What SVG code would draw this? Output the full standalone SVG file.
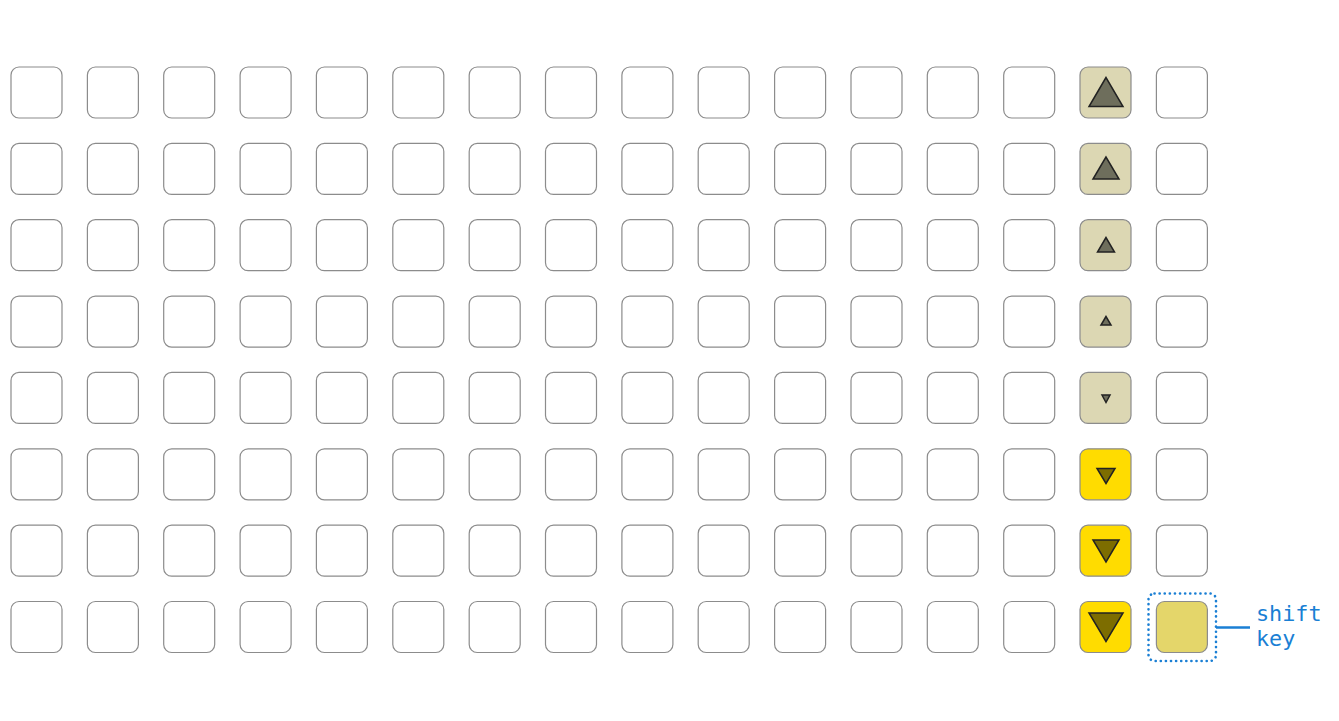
<svg xmlns="http://www.w3.org/2000/svg" xmlns:xlink="http://www.w3.org/1999/xlink" width="1339" height="721" viewBox="0 0 1339 721">
<style>
.key{fill:#ffffff;stroke:#8c8c8c;stroke-width:1.2}
.beige{fill:#dcd7b3;stroke:#8c8c8c;stroke-width:1.2}
.yellow{fill:#ffdc00;stroke:#8c8c8c;stroke-width:1.2}
.shiftk{fill:#e4d66a;stroke:#8c8c8c;stroke-width:1.2}
.tg{fill:#6e6e5c;stroke:#222;stroke-width:1.5;stroke-linejoin:miter}
.ty{fill:#7d6d00;stroke:#222;stroke-width:1.5;stroke-linejoin:miter}
.hl{fill:none;stroke:#1a7fd4;stroke-width:2.6;stroke-dasharray:0.1 5;stroke-linecap:round}
.ln{stroke:#1a7fd4;stroke-width:2.4}
.lbl{font-family:"DejaVu Sans Mono","Liberation Mono",monospace;font-size:21.8px;fill:#1a7fd4}
</style>
<defs>
<rect id="k" width="51" height="51" rx="8" ry="8"/>
</defs>
<g id="grid">
<g id="r0" transform="translate(0,67)">
<use href="#k" class="key" x="11"/><use href="#k" class="key" x="87.4"/><use href="#k" class="key" x="163.7"/><use href="#k" class="key" x="240.1"/><use href="#k" class="key" x="316.4"/><use href="#k" class="key" x="392.8"/><use href="#k" class="key" x="469.2"/><use href="#k" class="key" x="545.5"/><use href="#k" class="key" x="621.9"/><use href="#k" class="key" x="698.2"/><use href="#k" class="key" x="774.6"/><use href="#k" class="key" x="851"/><use href="#k" class="key" x="927.3"/><use href="#k" class="key" x="1003.7"/><use href="#k" class="beige" x="1080"/><use href="#k" class="key" x="1156.4"/>
</g>
<g id="r1" transform="translate(0,143.4)">
<use href="#k" class="key" x="11"/><use href="#k" class="key" x="87.4"/><use href="#k" class="key" x="163.7"/><use href="#k" class="key" x="240.1"/><use href="#k" class="key" x="316.4"/><use href="#k" class="key" x="392.8"/><use href="#k" class="key" x="469.2"/><use href="#k" class="key" x="545.5"/><use href="#k" class="key" x="621.9"/><use href="#k" class="key" x="698.2"/><use href="#k" class="key" x="774.6"/><use href="#k" class="key" x="851"/><use href="#k" class="key" x="927.3"/><use href="#k" class="key" x="1003.7"/><use href="#k" class="beige" x="1080"/><use href="#k" class="key" x="1156.4"/>
</g>
<g id="r2" transform="translate(0,219.7)">
<use href="#k" class="key" x="11"/><use href="#k" class="key" x="87.4"/><use href="#k" class="key" x="163.7"/><use href="#k" class="key" x="240.1"/><use href="#k" class="key" x="316.4"/><use href="#k" class="key" x="392.8"/><use href="#k" class="key" x="469.2"/><use href="#k" class="key" x="545.5"/><use href="#k" class="key" x="621.9"/><use href="#k" class="key" x="698.2"/><use href="#k" class="key" x="774.6"/><use href="#k" class="key" x="851"/><use href="#k" class="key" x="927.3"/><use href="#k" class="key" x="1003.7"/><use href="#k" class="beige" x="1080"/><use href="#k" class="key" x="1156.4"/>
</g>
<g id="r3" transform="translate(0,296.1)">
<use href="#k" class="key" x="11"/><use href="#k" class="key" x="87.4"/><use href="#k" class="key" x="163.7"/><use href="#k" class="key" x="240.1"/><use href="#k" class="key" x="316.4"/><use href="#k" class="key" x="392.8"/><use href="#k" class="key" x="469.2"/><use href="#k" class="key" x="545.5"/><use href="#k" class="key" x="621.9"/><use href="#k" class="key" x="698.2"/><use href="#k" class="key" x="774.6"/><use href="#k" class="key" x="851"/><use href="#k" class="key" x="927.3"/><use href="#k" class="key" x="1003.7"/><use href="#k" class="beige" x="1080"/><use href="#k" class="key" x="1156.4"/>
</g>
<g id="r4" transform="translate(0,372.4)">
<use href="#k" class="key" x="11"/><use href="#k" class="key" x="87.4"/><use href="#k" class="key" x="163.7"/><use href="#k" class="key" x="240.1"/><use href="#k" class="key" x="316.4"/><use href="#k" class="key" x="392.8"/><use href="#k" class="key" x="469.2"/><use href="#k" class="key" x="545.5"/><use href="#k" class="key" x="621.9"/><use href="#k" class="key" x="698.2"/><use href="#k" class="key" x="774.6"/><use href="#k" class="key" x="851"/><use href="#k" class="key" x="927.3"/><use href="#k" class="key" x="1003.7"/><use href="#k" class="beige" x="1080"/><use href="#k" class="key" x="1156.4"/>
</g>
<g id="r5" transform="translate(0,448.8)">
<use href="#k" class="key" x="11"/><use href="#k" class="key" x="87.4"/><use href="#k" class="key" x="163.7"/><use href="#k" class="key" x="240.1"/><use href="#k" class="key" x="316.4"/><use href="#k" class="key" x="392.8"/><use href="#k" class="key" x="469.2"/><use href="#k" class="key" x="545.5"/><use href="#k" class="key" x="621.9"/><use href="#k" class="key" x="698.2"/><use href="#k" class="key" x="774.6"/><use href="#k" class="key" x="851"/><use href="#k" class="key" x="927.3"/><use href="#k" class="key" x="1003.7"/><use href="#k" class="yellow" x="1080"/><use href="#k" class="key" x="1156.4"/>
</g>
<g id="r6" transform="translate(0,525.2)">
<use href="#k" class="key" x="11"/><use href="#k" class="key" x="87.4"/><use href="#k" class="key" x="163.7"/><use href="#k" class="key" x="240.1"/><use href="#k" class="key" x="316.4"/><use href="#k" class="key" x="392.8"/><use href="#k" class="key" x="469.2"/><use href="#k" class="key" x="545.5"/><use href="#k" class="key" x="621.9"/><use href="#k" class="key" x="698.2"/><use href="#k" class="key" x="774.6"/><use href="#k" class="key" x="851"/><use href="#k" class="key" x="927.3"/><use href="#k" class="key" x="1003.7"/><use href="#k" class="yellow" x="1080"/><use href="#k" class="key" x="1156.4"/>
</g>
<g id="r7" transform="translate(0,601.5)">
<use href="#k" class="key" x="11"/><use href="#k" class="key" x="87.4"/><use href="#k" class="key" x="163.7"/><use href="#k" class="key" x="240.1"/><use href="#k" class="key" x="316.4"/><use href="#k" class="key" x="392.8"/><use href="#k" class="key" x="469.2"/><use href="#k" class="key" x="545.5"/><use href="#k" class="key" x="621.9"/><use href="#k" class="key" x="698.2"/><use href="#k" class="key" x="774.6"/><use href="#k" class="key" x="851"/><use href="#k" class="key" x="927.3"/><use href="#k" class="key" x="1003.7"/><use href="#k" class="yellow" x="1080"/>
</g>
</g>
<g id="arrows">
<polygon class="tg" points="1106,77.5 1089,106.5 1123,106.5"/>
<polygon class="tg" points="1106,157 1093,179 1119,179"/>
<polygon class="tg" points="1106,237.5 1097.5,252 1114.5,252"/>
<polygon class="tg" points="1106,316.5 1101,325 1111,325"/>
<polygon class="tg" points="1102,395 1110,395 1106,402.5"/>
<polygon class="ty" points="1097,468.5 1115,468.5 1106,483.5"/>
<polygon class="ty" points="1093,540 1119,540 1106,562"/>
<polygon class="ty" points="1089,613 1123,613 1106,641.5"/>
</g>
<g id="shift-key">
<use href="#k" class="shiftk" x="1156.4" y="601.5"/>
<rect class="hl" x="1148.5" y="593.5" width="67.5" height="67.5" rx="6"/>
</g>
<g id="connectors">
<line class="ln" x1="1216" y1="627.5" x2="1250" y2="627.5"/>
</g>
<g id="label">
<text class="lbl" x="1256" y="621">shift</text>
<text class="lbl" x="1256" y="646">key</text>
</g>
</svg>
